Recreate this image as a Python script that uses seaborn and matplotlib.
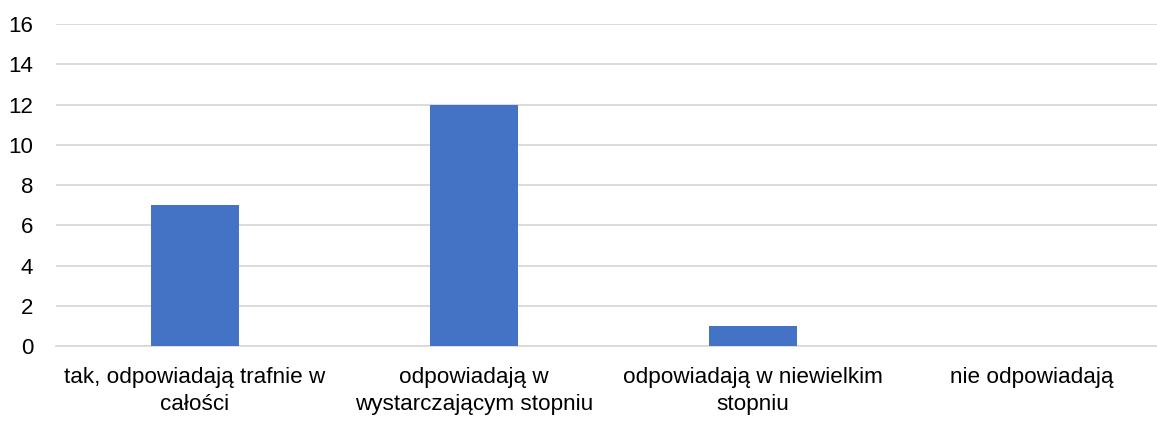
import pandas as pd
import matplotlib
matplotlib.use("Agg")
import matplotlib.pyplot as plt
import seaborn as sns

# dane
categories = ["tak, odpowiadają trafnie w\ncałości",
              "odpowiadają w\nwystarczającym stopniu",
              "odpowiadają w niewielkim\nstopniu",
              "nie odpowiadają"]
values = [7, 12, 1, 0]
y_ticks = [0, 2, 4, 6, 8, 10, 12, 14, 16]

sns.set_style("white")
plt.rcParams['font.family'] = ['Liberation Sans', 'DejaVu Sans']

df = pd.DataFrame({"kategoria": categories, "liczba": values})

fig = plt.figure(figsize=(11.57, 4.23), dpi=100)
# prawa krawedz osi wychodzi poza obraz (jak w oryginale, linie siatki ucięte)
ax = fig.add_axes([0.048, 0.182, 0.9646, 0.761])

sns.barplot(data=df, x="kategoria", y="liczba", color="#4472C4",
            width=0.315, saturation=1, linewidth=0, ax=ax, zorder=3)

ax.set_ylim(0, 16)
ax.set_yticks(y_ticks)
ax.yaxis.grid(True, color="#D9D9D9", linewidth=1.3, zorder=0)
ax.set_axisbelow(True)
ax.set_xlabel("")
ax.set_ylabel("")
for s in ["top", "right", "left"]:
    ax.spines[s].set_visible(False)
ax.spines["bottom"].set_color("#D9D9D9")
ax.spines["bottom"].set_linewidth(1.3)
ax.tick_params(axis="both", length=0, colors="black")
ax.tick_params(axis="x", labelsize=16.2, pad=15)
ax.tick_params(axis="y", labelsize=16, pad=16)
for lab in ax.get_xticklabels():
    lab.set_linespacing(1.38)

plt.savefig("out.png", dpi=100)
plt.close()
